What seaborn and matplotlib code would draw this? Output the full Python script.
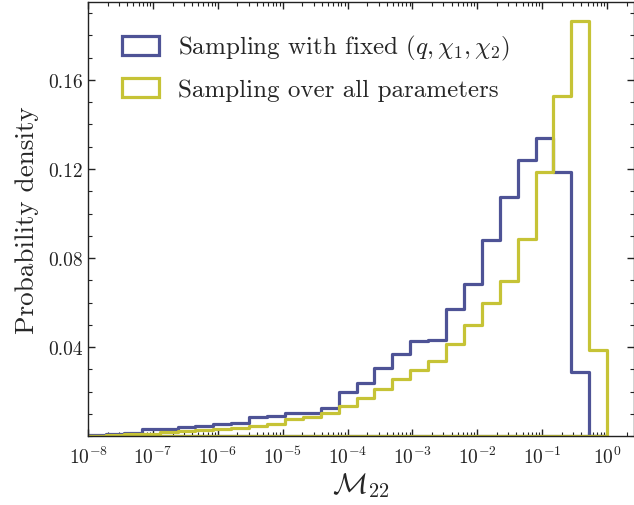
import numpy as np
import pandas as pd
import matplotlib
matplotlib.use("Agg")
import matplotlib.pyplot as plt
import seaborn as sns
from matplotlib.patches import Patch
from matplotlib.ticker import LogLocator, NullFormatter, FixedLocator, MultipleLocator

# ---- data: probability per log-spaced bin (29 bins from 1e-8 to 1e0) ----
log_lo, log_hi, n_bins = -8.0, 0.0, 29

fixed_vals = [0.0005, 0.0010, 0.0015, 0.0031, 0.0031, 0.0042, 0.0047, 0.0054, 0.0058,
              0.0085, 0.0090, 0.0105, 0.0103, 0.0128, 0.0200, 0.0241, 0.0305, 0.0371,
              0.0427, 0.0433, 0.0571, 0.0684, 0.0879, 0.1075, 0.1240, 0.1338, 0.1186,
              0.0289, 0.0000]
all_vals = [0.0003, 0.0006, 0.0008, 0.0012, 0.0017, 0.0023, 0.0029, 0.0033, 0.0039,
            0.0045, 0.0055, 0.0075, 0.0085, 0.0105, 0.0135, 0.0173, 0.0214, 0.0256,
            0.0298, 0.0338, 0.0414, 0.0501, 0.0598, 0.0699, 0.0886, 0.1188, 0.1526,
            0.1867, 0.0388]
labels = [r"Sampling with fixed $(q, \chi_1, \chi_2)$", "Sampling over all parameters"]
colors = ["#4e5396", "#c6c336"]
y_ticks = [0.04, 0.08, 0.12, 0.16]

sns.set_theme(style="ticks")
plt.rcParams.update({
    "font.family": ["cmr10", "DejaVu Serif"],
    "mathtext.fontset": "cm",
    "axes.formatter.use_mathtext": True,
    "axes.unicode_minus": False,
    "axes.edgecolor": "#222222",
    "axes.linewidth": 1.0,
    "xtick.color": "#222222",
    "ytick.color": "#222222",
})

width = (log_hi - log_lo) / n_bins
centers = 10 ** (log_lo + (np.arange(n_bins) + 0.5) * width)
df = pd.concat([
    pd.DataFrame({"M": centers, "p": fixed_vals, "series": labels[0]}),
    pd.DataFrame({"M": centers, "p": all_vals, "series": labels[1]}),
])

fig = plt.figure(figsize=(6.34, 5.06), dpi=100)
ax = fig.add_axes([0.139, 0.136, 0.861, 0.858])

for lab, col in zip(labels, colors):
    sns.histplot(data=df[df["series"] == lab], x="M", weights="p",
                 bins=n_bins, binrange=(log_lo, log_hi), log_scale=True,
                 element="step", fill=True, facecolor="none", color=col,
                 stat="count", linewidth=2.3, ax=ax)

ax.set_xlim(1e-8, 2.6)
ax.set_ylim(0, 0.195)
ax.xaxis.set_major_locator(LogLocator(base=10, numticks=30))
ax.xaxis.set_minor_locator(LogLocator(base=10, subs=np.arange(2, 10), numticks=300))
ax.xaxis.set_minor_formatter(NullFormatter())
ax.yaxis.set_major_locator(FixedLocator(y_ticks))
ax.yaxis.set_minor_locator(MultipleLocator(0.01))
ax.set_yticklabels([f"{v:.2f}" for v in y_ticks])

ax.tick_params(which="both", direction="in", top=True, right=True)
ax.tick_params(which="major", length=5, width=1.0, labelsize=14)
ax.tick_params(which="minor", length=2.8, width=0.8)
ax.tick_params(axis="x", which="major", pad=7)

ax.set_xlabel(r"$\mathcal{M}_{22}$", fontsize=21, labelpad=2)
ax.set_ylabel("Probability density", fontsize=19.5, labelpad=7)

handles = [Patch(facecolor="none", edgecolor=c, linewidth=2.3) for c in colors]
ax.legend(handles, labels, loc="upper left", bbox_to_anchor=(0.02, 0.98),
          frameon=False, fontsize=18, handlelength=1.5, handleheight=0.8,
          handletextpad=0.75, labelspacing=0.62)

fig.savefig("out.png", dpi=100)
